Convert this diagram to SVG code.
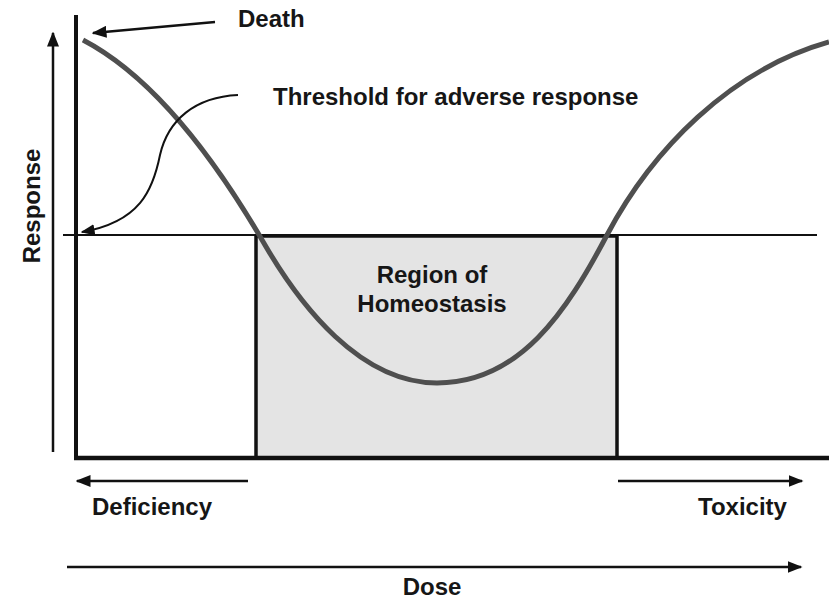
<svg xmlns="http://www.w3.org/2000/svg" width="829" height="600" viewBox="0 0 829 600">
<style>
text{font-family:"Liberation Sans",Arial,sans-serif;font-weight:bold;font-size:24px;fill:#161616}
.ln{stroke:#111;fill:none}
</style>
<defs>
<marker id="ah" viewBox="0 0 10 8" refX="9" refY="4" markerWidth="6" markerHeight="4.8" markerUnits="strokeWidth" orient="auto">
<path d="M0,0L10,4L0,8z" fill="#111"/>
</marker>
<marker id="ah2" viewBox="0 0 10 8" refX="9" refY="4" markerWidth="7" markerHeight="5.6" markerUnits="strokeWidth" orient="auto">
<path d="M0,0L10,4L0,8z" fill="#111"/>
</marker>
</defs>
<rect width="829" height="600" fill="#fff"/>
<g id="region">
<rect x="256" y="236" width="361" height="222" fill="#e4e4e4" stroke="#111" stroke-width="3.5"/>
<text x="432" y="283" text-anchor="middle">Region of</text>
<text x="432" y="312" text-anchor="middle">Homeostasis</text>
</g>
<g id="axes">
<line class="ln" x1="63" y1="235" x2="817" y2="235" stroke-width="2"/>
<line class="ln" x1="76" y1="15" x2="76" y2="460" stroke-width="4"/>
<line class="ln" x1="74" y1="458" x2="829" y2="458" stroke-width="4.5"/>
</g>
<g id="curve">
<path d="M83,40 C150,75 210,150 265,245 C300,305 360,383 437,383 C520,383 567,311 607,235 C652,150 730,70 829,42" fill="none" stroke="#4f4f4f" stroke-width="5"/>
</g>
<g id="connectors">
<line class="ln" x1="53" y1="452" x2="53" y2="33" stroke-width="2.5" marker-end="url(#ah)"/>
<line class="ln" x1="215" y1="22" x2="93" y2="33" stroke-width="2.5" marker-end="url(#ah)"/>
<path class="ln" d="M238,95 C195,97 168,120 160,155 C153,190 140,222 82,232" stroke-width="2" marker-end="url(#ah2)"/>
<line class="ln" x1="248" y1="481" x2="77" y2="481" stroke-width="2.5" marker-end="url(#ah)"/>
<line class="ln" x1="618" y1="481" x2="802" y2="481" stroke-width="2.5" marker-end="url(#ah)"/>
<line class="ln" x1="67" y1="567" x2="801" y2="567" stroke-width="2.5" marker-end="url(#ah)"/>
</g>
<g id="labels">
<text x="238" y="27">Death</text>
<text x="273" y="105">Threshold for adverse response</text>
<text x="92" y="515">Deficiency</text>
<text x="698" y="515">Toxicity</text>
<text x="432" y="595" text-anchor="middle">Dose</text>
<text transform="translate(40,206) rotate(-90)" text-anchor="middle">Response</text>
</g>
</svg>
